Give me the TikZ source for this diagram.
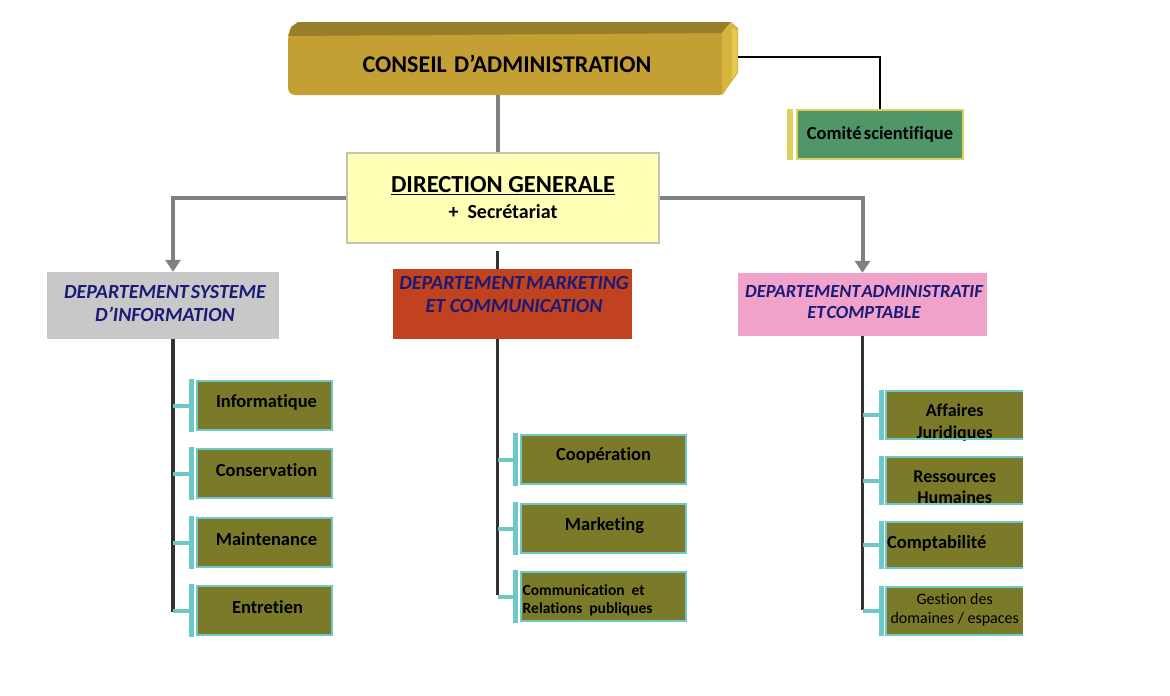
\documentclass[tikz,border=0pt]{standalone}
\usepackage{fontspec}
\setmainfont{Carlito}[Ligatures=NoCommon]
\usetikzlibrary{arrows.meta,calc}
\definecolor{cgold}{RGB}{196,160,52}
\definecolor{cgolddark}{RGB}{152,126,40}
\definecolor{cgoldlight}{RGB}{214,180,62}
\definecolor{cgoldhl}{RGB}{232,202,80}
\definecolor{cgreen}{RGB}{80,150,104}
\definecolor{cyel}{RGB}{222,206,90}
\definecolor{dgfill}{RGB}{255,255,182}
\definecolor{dgdraw}{RGB}{196,196,176}
\definecolor{dsi}{RGB}{200,200,200}
\definecolor{dmk}{RGB}{192,66,30}
\definecolor{dac}{RGB}{240,162,202}
\definecolor{navy}{RGB}{26,26,120}
\definecolor{olivebox}{RGB}{122,122,40}
\definecolor{cyanb}{RGB}{110,200,200}
\definecolor{spinec}{RGB}{50,50,50}
\definecolor{arrowc}{RGB}{128,128,128}
\tikzset{
  gline/.style={draw=arrowc, line width=4pt},
  garrow/.style={gline, -{Triangle[width=15pt,length=12pt]}},
  spine/.style={draw=spinec, line width=3.5pt},
  conn/.style={draw=cyanb, line width=4pt},
  subbox/.style={draw=cyanb, line width=2pt, fill=olivebox, inner sep=0pt, anchor=north west},
  openbox/.style={fill=olivebox, inner sep=0pt, anchor=north west},
  subtext/.style={inner sep=0pt, text=black, align=center, font=\fontsize{18.5}{22}\selectfont\bfseries},
  dept/.style={inner sep=0pt, text=navy, align=center, font=\fontsize{20}{23}\selectfont\bfseries\itshape},
}
\begin{document}
\begin{tikzpicture}[x=1pt,y=-1pt]
\fill[white] (0,0) rectangle (1170,696);
\useasboundingbox (0,0) rectangle (1170,696);

% ---- Conseil d'administration (3D bar)
\node[fill=cgold, rounded corners=7pt, minimum width=438pt, minimum height=63pt, inner sep=0pt,
  font=\fontsize{24}{28}\selectfont\bfseries] (conseil) at (507,63.5) {CONSEIL\hspace{0.3em}D’ADMINISTRATION};
\fill[cgolddark] (288,36) -- (291,27) -- (298,22) -- (731,22) -- (722,33) -- cycle;
\fill[cgoldlight] (722,33) -- (731,22) -- (738,28) -- (738,73) -- (722,95) -- cycle;
\fill[cgoldhl] (732,28) -- (737,30) -- (737,72) -- (732,79) -- cycle;

% ---- Comite scientifique
\node[fill=cgreen, draw=cyel, line width=1.5pt, minimum width=166pt, minimum height=49pt, inner sep=0pt,
  font=\fontsize{18.5}{22}\selectfont\bfseries] (comite) at (880,134.5) {Comité\hspace{0.12em}scientifique};
\fill[cyel] ([xshift=-9pt]comite.north west) rectangle ([xshift=-3pt]comite.south west);
\draw[black, line width=2pt] ([xshift=12pt,yshift=6.5pt]conseil.east) -| (comite.north);

% ---- Direction generale
\node[fill=dgfill, draw=dgdraw, line width=2pt, minimum width=312pt, minimum height=90pt, inner sep=0pt,
  align=center, font=\fontsize{20}{26}\selectfont\bfseries] (dg) at (503,198)
  {{\fontsize{24.5}{28}\selectfont\underline{DIRECTION GENERALE}}\\+\ \ Secrétariat};
\coordinate (axis) at (497.5,0);
\draw[gline] (conseil.south -| axis) -- (dg.north -| axis);

% ---- Departments
\node[fill=dsi, minimum width=232pt, minimum height=67pt, inner sep=0pt] (d1) at (163,305.5) {};
\node[dept] (d1t) at (165,303.5) {DEPARTEMENT\hspace{0.1em}SYSTEME\\D’INFORMATION};
\node[fill=dmk, minimum width=239pt, minimum height=70pt, inner sep=0pt] (d2) at (512.5,304) {};
\node[dept] (d2t) at (514,294.5) {DEPARTEMENT\hspace{0.1em}MARKETING\\ET COMMUNICATION};
\node[fill=dac, minimum width=249pt, minimum height=63pt, inner sep=0pt] (d3) at (862.5,304.5) {};
\node[dept, font=\fontsize{18.5}{21}\selectfont\bfseries\itshape] (d3t) at (864,302.5) {DEPARTEMENT\hspace{0.05em}ADMINISTRATIF\\ET\hspace{0.05em}COMPTABLE};

\draw[garrow] (dg.west) -| ([xshift=10pt]d1.north);
\draw[garrow] (dg.east) -| (d3.north);
\draw[spine, line width=3pt] ($(dg.south -| axis)+(0,7)$) -- (d2.north -| axis);

% ---- spines
\coordinate (s1a) at ([xshift=10pt]d1.south);
\coordinate (s1b) at (173,612);
\coordinate (s2a) at (d2.south -| axis);
\coordinate (s2b) at (497.5,595);
\coordinate (s3a) at (d3.south);
\coordinate (s3b) at (862.5,610);
\draw[spine] (s1a) -- (s1b);
\draw[spine] (s2a) -- (s2b);
\draw[spine] (s3a) -- (s3b);

% ---- Sub units: Systeme d'information
\node[subbox, minimum width=135pt, minimum height=49pt] (a1) at (196,380) {};
\node[subtext] (a1t) at ([xshift=2pt,yshift=3pt]a1.center) {Informatique};
\node[subbox, minimum width=135pt, minimum height=49pt] (a2) at (196,448) {};
\node[subtext] (a2t) at ([xshift=2pt,yshift=3pt]a2.center) {Conservation};
\node[subbox, minimum width=135pt, minimum height=49pt] (a3) at (196,517) {};
\node[subtext] (a3t) at ([xshift=2pt,yshift=3pt]a3.center) {Maintenance};
\node[subbox, minimum width=135pt, minimum height=49pt] (a4) at (196,585) {};
\node[subtext] (a4t) at ([xshift=3pt,yshift=3pt]a4.center) {Entretien};

% ---- Sub units: Marketing
\node[subbox, minimum width=165pt, minimum height=49pt] (b1) at (520,434) {};
\node[subtext] (b1t) at ([yshift=4pt]b1.center) {Coopération};
\node[subbox, minimum width=165pt, minimum height=49pt] (b2) at (520,503) {};
\node[subtext] (b2t) at ([xshift=1pt,yshift=3pt]b2.center) {Marketing};
\node[subbox, minimum width=165pt, minimum height=49pt] (b3) at (520,571) {};
\node[subtext, align=left, anchor=west, font=\fontsize{15.5}{18}\selectfont\bfseries] (b3t) at ([xshift=2.5pt,yshift=-4pt]b3.west) {Communication\ \ et\\Relations\ \ publiques};

% ---- Sub units: Administratif (right edge cut, no right border)
\node[openbox, minimum width=137pt, minimum height=48pt] (c1) at (886,391) {};
\node[subtext, font=\fontsize{18}{22}\selectfont\bfseries] (c1t) at ([yshift=-7pt]c1.center) {Affaires\\Juridiques};
\node[openbox, minimum width=137pt, minimum height=47pt] (c2) at (886,457) {};
\node[subtext, font=\fontsize{18}{21}\selectfont\bfseries] (c2t) at ([yshift=-7pt]c2.center) {Ressources\\Humaines};
\node[openbox, minimum width=137pt, minimum height=46pt] (c3) at (886,522) {};
\node[subtext, anchor=west] (c3t) at ([xshift=1pt,yshift=2pt]c3.west) {Comptabilité};
\node[openbox, minimum width=137pt, minimum height=48pt] (c4) at (886,587) {};
\node[subtext, font=\fontsize{16}{19}\selectfont] (c4t) at ([yshift=1.5pt]c4.center) {Gestion des\\domaines / espaces};
\foreach \n in {c1,c2,c3,c4}{
  \draw[cyanb, line width=2pt] (\n.north east) -- (\n.north west) -- (\n.south west) -- (\n.south east);
}

% ---- brackets and connectors
\foreach \n/\s in {a1/s1a,a2/s1a,a3/s1a,a4/s1a,b1/s2a,b2/s2a,b3/s2a,c1/s3a,c2/s3a,c3/s3a,c4/s3a}{
  \fill[cyanb] ([xshift=-7pt,yshift=1pt]\n.north west) rectangle ([xshift=-2pt,yshift=-1pt]\n.south west);
  \draw[conn] (\n.west -| \s) -- ([xshift=-6pt]\n.west);
}
\end{tikzpicture}
\end{document}
